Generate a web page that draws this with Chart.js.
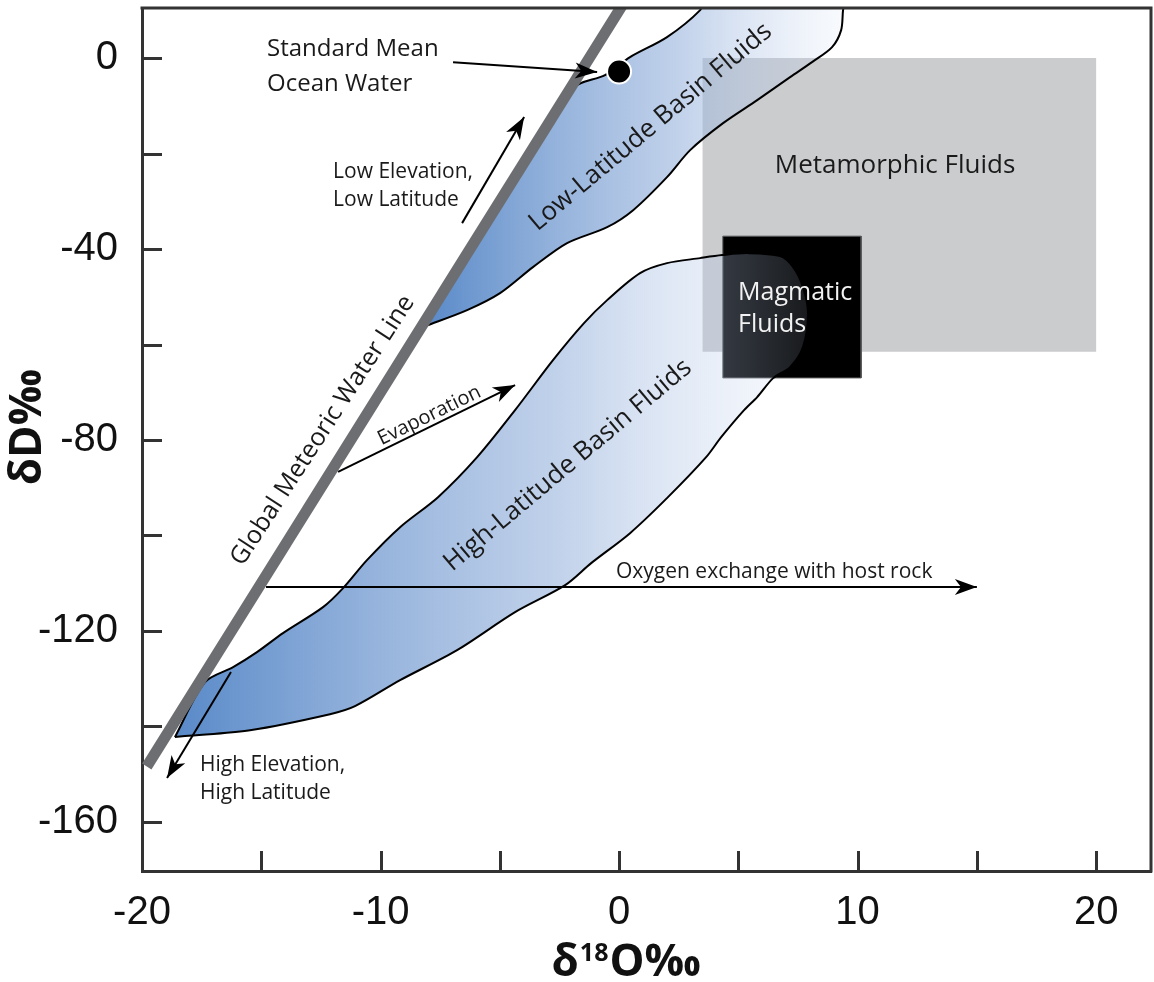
<!DOCTYPE html>
<html>
<head>
<meta charset="utf-8">
<script src="https://cdn.jsdelivr.net/npm/chart.js@4.4.0/dist/chart.umd.min.js"></script>
<style>
html,body{margin:0;padding:0;background:#ffffff;}
#c{display:block;}
</style>
</head>
<body>
<canvas id="c" width="1154" height="982"></canvas>
<script>
// ---------------- data ----------------
const xTickLabels = [-20, -10, 0, 10, 20];
const xTickMarks  = [-15, -10, -5, 0, 5, 10, 15, 20];
const yTickLabels = [0, -40, -80, -120, -160];
const yTickMarks  = [0, -20, -40, -60, -80, -100, -120, -140, -160];

// Global Meteoric Water Line (end points as drawn)
const gmwlX = [-19.8, 0.3];
const gmwlY = [-148.4, 12.4];

// Standard Mean Ocean Water
const smowX = [0];
const smowY = [-2.8];

// Metamorphic / magmatic fields (x range, y range)
const metamorphicX = [3.5, 20];
const metamorphicY = [0, -61.5];
const magmaticX = [4.35, 10.15];
const magmaticY = [-37.3, -67.0];

// Low-latitude basin fluids outline
const lowLatX = [-8.13, -5.0, -1.93, -0.59, 0.46, 2.01, 3.40, 3.61, 9.48, 9.39, 9.31, 8.93, 8.09, 7.17, 5.79, 4.36, 2.98, 2.01, 0.59, -0.50, -2.18, -3.61, -4.99, -6.37, -8.13];
const lowLatY = [-56.15, -30.2, -6.29, -3.56, 0.21, 4.40, 10.06, 12.6, 12.6, 10.06, 5.87, 2.30, -0.84, -3.98, -8.80, -13.62, -19.27, -24.93, -31.85, -35.41, -38.76, -43.79, -49.24, -52.80, -56.15];

// High-latitude basin fluids outline
const highLatX = [-18.62, -17.36, -16.18, -15.18, -14.09, -12.41, -11.57, -10.57, -9.18, -7.59, -5.95, -4.36, -2.77, -1.47, -0.50, 0.88, 2.01, 3.40, 4.32, 5.37, 6.75, 7.30, 7.71, 7.92, 7.71, 7.17, 6.46, 5.79, 5.24, 4.28, 3.65, 2.05, 0.46, -1.17, -2.26, -4.36, -6.79, -9.18, -11.07, -12.12, -15.47, -18.20, -18.62];
const highLatY = [-142.25, -130.73, -127.59, -124.45, -120.47, -115.02, -111.04, -105.17, -98.26, -91.98, -83.60, -73.75, -63.28, -55.52, -50.70, -45.04, -42.95, -41.90, -41.27, -40.85, -41.48, -43.79, -47.98, -53.43, -60.55, -64.74, -67.04, -71.02, -73.75, -79.41, -83.60, -91.98, -99.52, -105.80, -110.41, -116.07, -124.03, -130.32, -135.76, -137.44, -140.8, -142.04, -142.25];

// Arrows (tail -> tip)
const arrowSmowX = [-6.96, -0.92];   const arrowSmowY = [-0.84, -2.93];
const arrowLowX  = [-6.58, -3.98];   const arrowLowY  = [-34.57, -12.36];
const arrowEvapX = [-11.78, -4.36];  const arrowEvapY = [-86.7, -68.5];
const arrowHighX = [-16.27, -18.95]; const arrowHighY = [-128.6, -150.8];
const arrowOxyX  = [-14.8, 15.0];    const arrowOxyY  = [-110.8, -110.8];

// ---------------- helpers ----------------
function pts(xs, ys) { return xs.map((x, i) => ({x: x, y: ys[i]})); }
function rect(xs, ys) {
  return [{x: xs[0], y: ys[0]}, {x: xs[1], y: ys[0]}, {x: xs[1], y: ys[1]}, {x: xs[0], y: ys[1]}, {x: xs[0], y: ys[0]}];
}
function blueFade(xs) {
  return function (c) {
    const chart = c.chart;
    if (!chart.chartArea || !chart.scales.x) return 'rgba(120,160,215,0.5)';
    const sx = chart.scales.x;
    const x0 = sx.getPixelForValue(Math.min.apply(null, xs));
    const x1 = sx.getPixelForValue(Math.max.apply(null, xs));
    const g = chart.ctx.createLinearGradient(x0, 0, x1, 0);
    g.addColorStop(0, 'rgba(88,137,200,1)');
    g.addColorStop(0.6, 'rgba(150,178,220,0.6)');
    g.addColorStop(1, 'rgba(200,215,240,0.12)');
    return g;
  };
}
function noPad(s) { s.paddingTop = 0; s.paddingBottom = 0; s.paddingLeft = 0; s.paddingRight = 0; }

const TEXT = '#1a1a1a';
const notes = [
  {text: 'Standard Mean', x: -14.76, y: 1.9, size: 24, align: 'left'},
  {text: 'Ocean Water', x: -14.76, y: -5.4, size: 24, align: 'left'},
  {text: 'Low Elevation,', x: -11.99, y: -23.9, size: 21, align: 'left'},
  {text: 'Low Latitude', x: -11.99, y: -29.75, size: 21, align: 'left'},
  {text: 'Low-Latitude Basin Fluids', x: 1.32, y: -14.45, size: 26, rot: -40},
  {text: 'Metamorphic Fluids', x: 11.57, y: -22.6, size: 26},
  {text: 'Magmatic', x: 4.99, y: -49.2, size: 25, align: 'left', color: '#f2f2f2'},
  {text: 'Fluids', x: 4.99, y: -55.9, size: 25, align: 'left', color: '#f2f2f2'},
  {text: 'Global Meteoric Water Line', x: -12.42, y: -78.0, size: 25, rot: -57},
  {text: 'Evaporation', x: -7.95, y: -74.9, size: 20, rot: -26},
  {text: 'High-Latitude Basin Fluids', x: -2.15, y: -85.3, size: 26, rot: -40},
  {text: 'High Elevation,', x: -17.57, y: -148.1, size: 21, align: 'left'},
  {text: 'High Latitude', x: -17.57, y: -154.0, size: 21, align: 'left'},
  {text: 'Oxygen exchange with host rock', x: -0.13, y: -107.7, size: 21, align: 'left'}
];

function drawHead(ctx, x0, y0, x1, y1, L, W) {
  const dx = x1 - x0, dy = y1 - y0, len = Math.hypot(dx, dy);
  const ux = dx / len, uy = dy / len, nx = -uy, ny = ux;
  const bx = x1 - ux * L, by = y1 - uy * L;
  const mx = x1 - ux * L * 0.72, my = y1 - uy * L * 0.72;
  ctx.beginPath();
  ctx.moveTo(x1, y1);
  ctx.lineTo(bx + nx * W / 2, by + ny * W / 2);
  ctx.lineTo(mx, my);
  ctx.lineTo(bx - nx * W / 2, by - ny * W / 2);
  ctx.closePath();
  ctx.fill();
}

const decor = {
  id: 'decor',
  afterDatasetsDraw(chart) {
    const ctx = chart.ctx, a = chart.chartArea, sx = chart.scales.x, sy = chart.scales.y;
    ctx.save();
    // top and right frame
    ctx.strokeStyle = '#333333';
    ctx.lineWidth = 3;
    ctx.lineCap = 'butt';
    ctx.beginPath();
    ctx.moveTo(a.left - 1.5, a.top);
    ctx.lineTo(a.right, a.top);
    ctx.moveTo(a.right, a.top - 1.5);
    ctx.lineTo(a.right, a.bottom + 1.5);
    ctx.stroke();
    // inward tick marks
    ctx.beginPath();
    yTickMarks.forEach(v => {
      const p = Math.round(sy.getPixelForValue(v)) + 0.5;
      ctx.moveTo(a.left, p); ctx.lineTo(a.left + 20, p);
    });
    xTickMarks.forEach(v => {
      const p = Math.round(sx.getPixelForValue(v)) + 0.5;
      ctx.moveTo(p, a.bottom); ctx.lineTo(p, a.bottom - 20);
    });
    ctx.stroke();
    // arrow heads
    ctx.fillStyle = '#000';
    chart.data.datasets.forEach((ds, i) => {
      if (!ds.arrowHead) return;
      const el = chart.getDatasetMeta(i).data;
      if (el.length < 2) return;
      drawHead(ctx, el[0].x, el[0].y, el[1].x, el[1].y, 22, 16);
    });
    // annotation texts
    notes.forEach(n => {
      ctx.save();
      ctx.translate(sx.getPixelForValue(n.x), sy.getPixelForValue(n.y));
      if (n.rot) ctx.rotate(n.rot * Math.PI / 180);
      ctx.font = n.size + 'px "Open Sans"';
      ctx.fillStyle = n.color || TEXT;
      ctx.textAlign = n.align || 'center';
      ctx.textBaseline = 'middle';
      ctx.fillText(n.text, 0, 0);
      ctx.restore();
    });
    // axis titles
    ctx.fillStyle = '#111';
    ctx.textBaseline = 'alphabetic';
    const big = 'bold 44px "Open Sans"', small = 'bold 25px "Open Sans"';
    ctx.font = big; const w1 = ctx.measureText('δ').width; const w3 = ctx.measureText('O‰').width;
    ctx.font = small; const w2 = ctx.measureText('18').width;
    const cx = sx.getPixelForValue(0.3), by = sy.getPixelForValue(-192.2);
    let xs0 = cx - (w1 + w2 + w3 + 2) / 2;
    ctx.textAlign = 'left';
    ctx.font = big; ctx.fillText('δ', xs0, by);
    ctx.font = small; ctx.fillText('18', xs0 + w1 + 1, by - 15);
    ctx.font = big; ctx.fillText('O‰', xs0 + w1 + w2 + 2, by);
    ctx.save();
    ctx.translate(sx.getPixelForValue(-24.75), sy.getPixelForValue(-77.3));
    ctx.rotate(-Math.PI / 2);
    ctx.textAlign = 'center';
    ctx.textBaseline = 'middle';
    ctx.font = big;
    ctx.fillText('δD‰', 0, 0);
    ctx.restore();
    ctx.restore();
  }
};

const base = {pointRadius: 0, pointHoverRadius: 0, fill: false, tension: 0, showLine: true};

const datasets = [
  Object.assign({}, base, {label: 'Metamorphic Fluids', data: rect(metamorphicX, metamorphicY), fill: 'shape',
    backgroundColor: '#cbccce', borderColor: 'rgba(0,0,0,0)', borderWidth: 1, order: 9, clip: 0}),
  Object.assign({}, base, {label: 'Magmatic Fluids', data: rect(magmaticX, magmaticY), fill: 'shape',
    backgroundColor: '#000000', borderColor: '#5a5b5d', borderWidth: 1, order: 8, clip: 0}),
  Object.assign({}, base, {label: 'High-Latitude Basin Fluids', data: pts(highLatX, highLatY), fill: 'shape',
    backgroundColor: blueFade(highLatX), borderColor: '#000', borderWidth: 2, tension: 0.3,
    borderJoinStyle: 'round', order: 7, clip: 0}),
  Object.assign({}, base, {label: 'Low-Latitude Basin Fluids', data: pts(lowLatX, lowLatY), fill: 'shape',
    backgroundColor: blueFade(lowLatX.slice(0, 10)), borderColor: '#000', borderWidth: 2, tension: 0.3,
    borderJoinStyle: 'round', order: 6, clip: 0}),
  Object.assign({}, base, {label: 'Global Meteoric Water Line', data: pts(gmwlX, gmwlY),
    borderColor: '#6d6e71', borderWidth: 11, borderCapStyle: 'butt', order: 5,
    clip: {left: 12, top: 0, right: 0, bottom: 0}}),
  Object.assign({}, base, {label: 'Standard Mean Ocean Water', data: pts(smowX, smowY), showLine: false,
    pointRadius: 12, pointBackgroundColor: '#000', pointBorderColor: '#fff', pointBorderWidth: 2, order: 4, clip: false}),
  Object.assign({}, base, {label: 'arrow SMOW', data: pts(arrowSmowX, arrowSmowY), borderColor: '#000', borderWidth: 2, order: 1, arrowHead: true, clip: false}),
  Object.assign({}, base, {label: 'arrow low', data: pts(arrowLowX, arrowLowY), borderColor: '#000', borderWidth: 2, order: 1, arrowHead: true, clip: false}),
  Object.assign({}, base, {label: 'arrow evaporation', data: pts(arrowEvapX, arrowEvapY), borderColor: '#000', borderWidth: 2, order: 1, arrowHead: true, clip: false}),
  Object.assign({}, base, {label: 'arrow high', data: pts(arrowHighX, arrowHighY), borderColor: '#000', borderWidth: 2, order: 1, arrowHead: true, clip: false}),
  Object.assign({}, base, {label: 'arrow oxygen', data: pts(arrowOxyX, arrowOxyY), borderColor: '#000', borderWidth: 2, order: 1, arrowHead: true, clip: false})
];

new Chart(document.getElementById('c'), {
  type: 'line',
  data: {datasets: datasets},
  options: {
    responsive: false,
    devicePixelRatio: 1,
    animation: false,
    events: [],
    layout: {autoPadding: false, padding: {left: 0, top: 8, right: 3, bottom: 0}},
    elements: {line: {capBezierPoints: false}},
    plugins: {legend: {display: false}, tooltip: {enabled: false}, title: {display: false}},
    scales: {
      x: {
        type: 'linear', position: 'bottom', min: -20, max: 22.3,
        afterBuildTicks: s => { s.ticks = xTickLabels.map(v => ({value: v})); },
        afterFit: s => { s.height = 111; noPad(s); },
        grid: {display: false, drawTicks: false},
        border: {display: true, color: '#333333', width: 3},
        ticks: {font: {family: '"Liberation Sans", Arial, sans-serif', size: 40}, color: '#111', padding: 18,
          maxRotation: 0, autoSkip: false}
      },
      y: {
        type: 'linear', position: 'left', min: -170.3, max: 10.5,
        afterBuildTicks: s => { s.ticks = yTickLabels.map(v => ({value: v})); },
        afterFit: s => { s.width = 142; noPad(s); },
        grid: {display: false, drawTicks: false},
        border: {display: true, color: '#333333', width: 3},
        ticks: {font: {family: '"Liberation Sans", Arial, sans-serif', size: 40}, color: '#111', padding: 24,
          autoSkip: false}
      }
    }
  },
  plugins: [decor]
});
</script>
</body>
</html>
